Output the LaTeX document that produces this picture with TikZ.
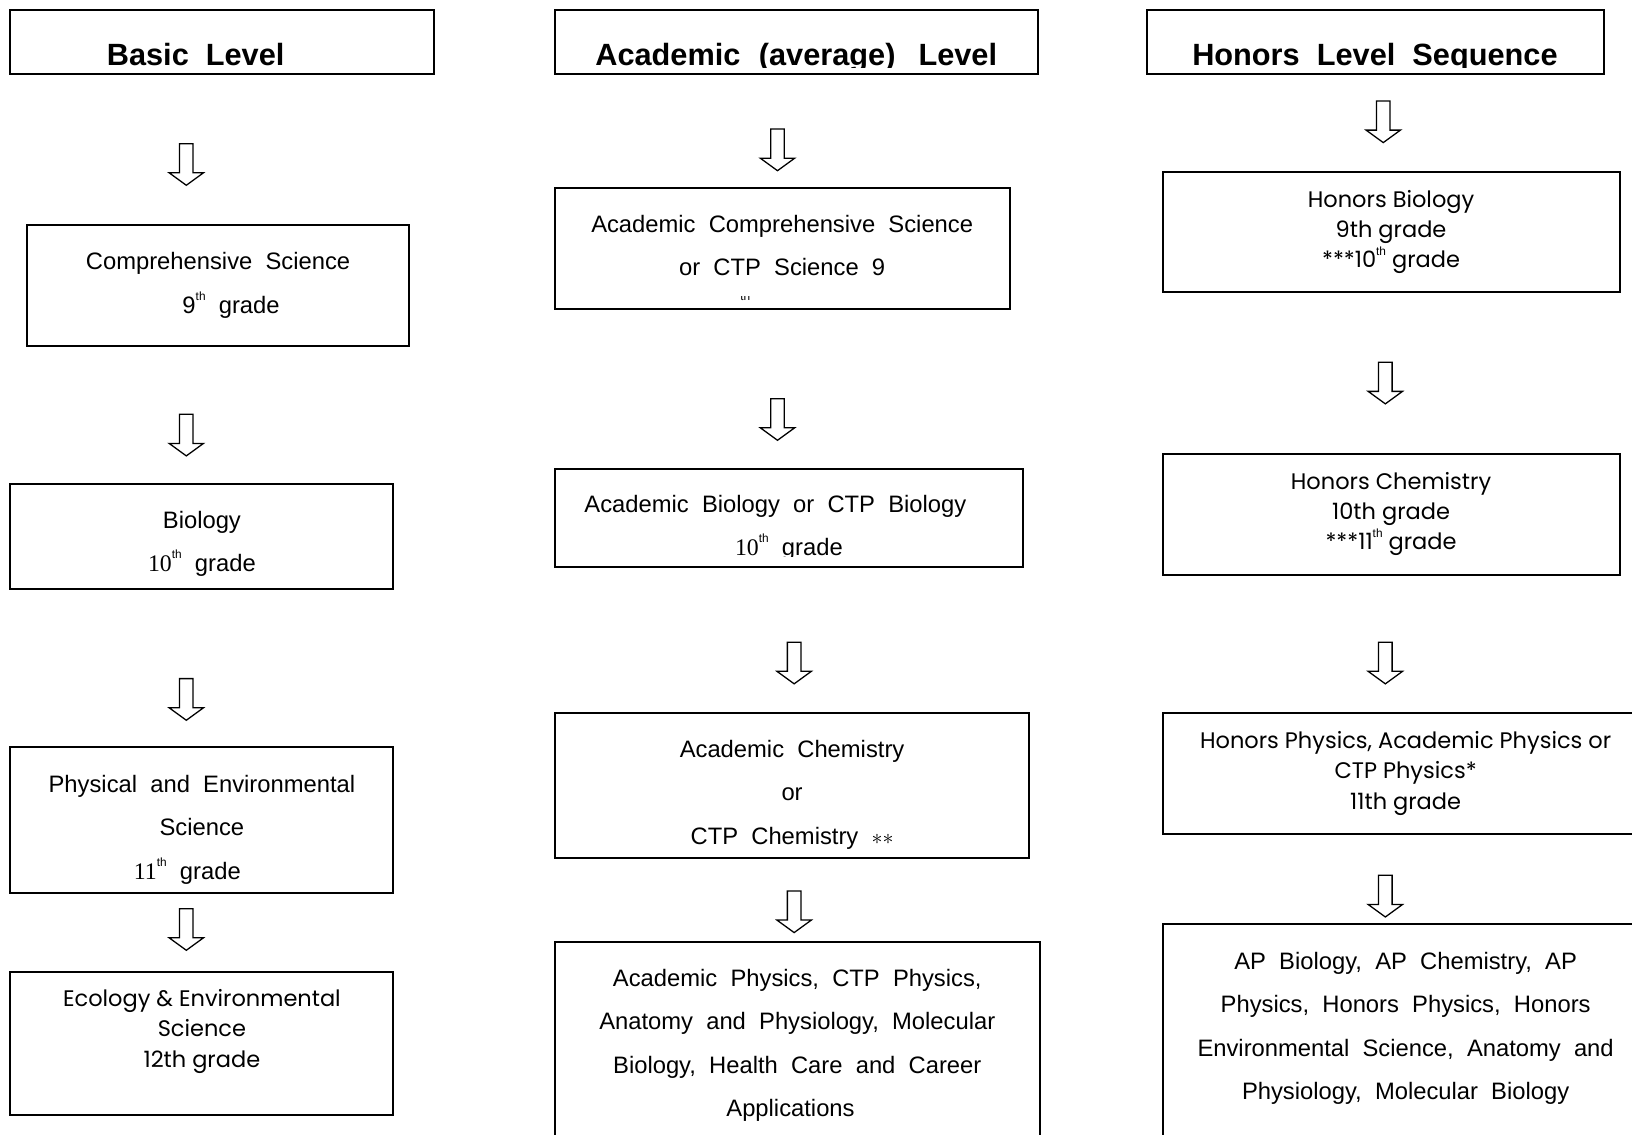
\documentclass[tikz,border=0pt]{standalone}
\usepackage{fontspec}
\setmainfont{Liberation Sans}
\newfontfamily\gothic{Poppins}
\newfontfamily\tnum{Liberation Serif}
\usepackage{tikz}
\usetikzlibrary{fit}

\newcommand{\thsup}{\raisebox{.55em}{\rmfamily\fontsize{6.5}{6.5}\selectfont th}}
\newcommand{\padr}[1]{\hbox to #1{}}

\tikzset{
  darrow/.pic = {
    \draw[arrline] (-6.5,-20) -- (6.5,-20) -- (6.5,8) -- (16.5,8)
      -- (0,20) -- (-16.5,8) -- (-6.5,8) -- cycle;
  }
}

\begin{document}
\begin{tikzpicture}[
    x = .02cm,
    y = -.02cm,
    font = \fontsize{13}{23.8}\selectfont,
    box/.style = {
      rectangle,
      draw,
      line width=1.1pt,
      inner sep=0pt
    },
    txt/.style = {
      inner sep=0pt,
      align=center
    },
    gtxt/.style = {
      txt,
      font=\gothic\fontsize{12.3}{16.5}\selectfont
    },
    hdrtext/.style = {
      font=\fontsize{16.8}{20}\selectfont\bfseries,
      inner sep=0pt,
      anchor=base
    },
    line/.style = {
      inner sep=0pt,
      anchor=base
    },
    arrline/.style = {
      line width=.7pt
    }
  ]
    \useasboundingbox (0,0) rectangle (1568,1090);

    % basic level
    \node[box, fit={(10,10) (417,71)}] (basic) {};
    \begin{scope}
      \clip (basic.north west) rectangle ([yshift=.15cm]basic.south east);
      \node[hdrtext] (basicT) at (188,63) {Basic~~Level};
    \end{scope}
    \node[box, fit={(26,216) (393,332)}] (compsci) {};
    \node[txt] (compsciT) at (compsci.center)
      {Comprehensive~~Science\\\hspace*{.5cm}9\thsup~~grade};
    \node[box, fit={(10,465) (378,566)}] (bio) {};
    \node[txt] (bioT) at ([yshift=-.14cm]bio.center)
      {Biology\\{\tnum 10}\thsup~~grade};
    \node[box, fit={(10,718) (378,858)}] (physenv) {};
    \node[txt] (physenvT) at ([yshift=-.18cm]physenv.center)
      {Physical~~and~~Environmental\\Science\\{\tnum 11}\thsup~~grade\padr{.56cm}};
    \node[box, fit={(10,934) (378,1071)}] (ecology) {};
    \node[gtxt] (ecologyT) at ([yshift=.23cm]ecology.center)
      {Ecology \& Environmental\\Science\\12th grade};
    \pic at (179,158) {darrow};
    \pic at (179,418) {darrow};
    \pic at (179,672) {darrow};
    \pic at (179,893) {darrow};

    % academic level
    \node[box, fit={(533,10) (997,71)}] (acad) {};
    \begin{scope}
      \clip (acad.north west) rectangle ([yshift=.15cm]acad.south east);
      \node[hdrtext] (acadT) at (765,63)
        {Academic\hspace{.6em}(average)\hspace{.75em}Level};
    \end{scope}
    \node[box, fit={(533,181) (970,297)}] (acsci) {};
    \node[txt] (acsciT) at ([yshift=.06cm]acsci.center)
      {Academic~~Comprehensive~~Science\\or~~CTP~~Science~~9};
    \begin{scope}
      \clip (700,285) rectangle (730,295);
      \node[line, font=\fontsize{6.5}{6.5}\selectfont] (acsciF) at (716,288.5) {th};
    \end{scope}
    \node[box, fit={(533,451) (983,545)}] (acbio) {};
    \node[line] (acbioA) at (745,492) {Academic~~Biology~~or~~CTP~~Biology};
    \begin{scope}
      \clip (acbio.north west) rectangle (983,534.5);
      \node[line] (acbioB) at (758,534) {{\tnum 10}\thsup~~grade};
    \end{scope}
    \node[box, fit={(533,685) (989,824)}] (acchem) {};
    \node[txt] (acchemT) at ([yshift=-.18cm]acchem.center)
      {Academic~~Chemistry\\or\\CTP~~Chemistry~~$\ast\ast$};
    \node[box, fit={(533,905) (999,1100)}] (acadv) {};
    \node[txt] (acadvT) at ([yshift=-.04cm]acadv.center)
      {Academic~~Physics,~~CTP~~Physics,\\Anatomy~~and~~Physiology,~~Molecular\\
       Biology,~~Health~~Care~~and~~Career\\Applications\padr{.26cm}};
    \pic at (747,144) {darrow};
    \pic at (747,403) {darrow};
    \pic at (763,637) {darrow};
    \pic at (763,876) {darrow};

    % honors level
    \node[box, fit={(1102,10) (1541,71)}] (hon) {};
    \begin{scope}
      \clip (hon.north west) rectangle ([yshift=.15cm]hon.south east);
      \node[hdrtext] (honT) at (1321,63) {Honors~~Level~~Sequence};
    \end{scope}
    \node[box, fit={(1117,165) (1556,281)}] (honbio) {};
    \node[gtxt] (honbioT) at (honbio.center)
      {Honors Biology\\9th grade\\***10\thsup\ grade};
    \node[box, fit={(1117,436) (1556,552)}] (honchem) {};
    \node[gtxt] (honchemT) at (honchem.center)
      {Honors Chemistry\\10th grade\\***11\thsup\ grade};
    \node[box, fit={(1117,685) (1584,801)}] (honphys) {};
    \node[gtxt] (honphysT) at (honphys.center)
      {Honors Physics, Academic Physics or\\CTP Physics*\\11th grade};
    \node[box, fit={(1117,888) (1584,1100)}] (honadv) {};
    \node[txt] (honadvT) at ([yshift=.12cm]honadv.center)
      {AP~~Biology,~~AP~~Chemistry,~~AP\\Physics,~~Honors~~Physics,~~Honors\\
       Environmental~~Science,~~Anatomy~~and\\Physiology,~~Molecular~~Biology};
    \pic at (1329,117) {darrow};
    \pic at (1331,368) {darrow};
    \pic at (1331,637) {darrow};
    \pic at (1331,861) {darrow};
  \end{tikzpicture}
\end{document}
